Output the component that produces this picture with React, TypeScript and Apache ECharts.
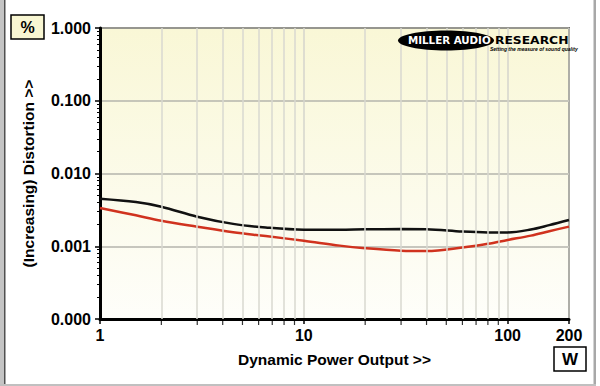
import React, { useEffect, useRef } from "react";
import * as echarts from "echarts";

const powerW = [1, 1.5, 2, 3, 4.5, 6.5, 10, 15, 20, 30, 40, 60, 80, 100, 130, 160, 200];
const blackTHD = [0.00451, 0.00405, 0.0035, 0.00255, 0.00203, 0.00181, 0.00169, 0.00169, 0.00171, 0.00172, 0.00171, 0.00159, 0.00155, 0.00155, 0.0017, 0.00195, 0.00229];
const redTHD = [0.00336, 0.00266, 0.00224, 0.00186, 0.00156, 0.00138, 0.00119, 0.00102, 0.00094, 0.00087, 0.00086, 0.00096, 0.00108, 0.00122, 0.0014, 0.00161, 0.00186];
const xLabels = [1, 10, 100, 200];
const minorGridX = [2, 3, 4, 5, 6, 7, 8, 9, 20, 30, 40, 50, 60, 70, 80, 90];
const yMin = 0.0001;
const yMax = 1;

const FONT = 'Arial, "Liberation Sans", sans-serif';
const LOGO = '"DejaVu Sans", Verdana, sans-serif';

export default function App() {
  const ref = useRef<HTMLDivElement>(null);
  useEffect(() => {
    if (!ref.current) return;
    const chart = echarts.init(ref.current, null, { renderer: "svg" });
    chart.setOption({
      animation: false,
      backgroundColor: "#ffffff",
      grid: {
        left: 100,
        right: 31,
        top: 28,
        bottom: 67,
        show: true,
        borderColor: "#000",
        borderWidth: 1.5,
        backgroundColor: new echarts.graphic.LinearGradient(0, 0, 0, 1, [
          { offset: 0, color: "#f9f7d6" },
          { offset: 1, color: "#fefefa" },
        ]),
      },
      xAxis: {
        type: "log",
        logBase: 10,
        min: 1,
        max: 200,
        name: "Dynamic Power Output >>",
        nameLocation: "middle",
        nameGap: 32,
        nameTextStyle: { fontFamily: FONT, fontWeight: "bold", fontSize: 15.5, color: "#000" },
        axisLine: { show: true, lineStyle: { color: "#000", width: 3 } },
        axisTick: { show: true, length: 5, lineStyle: { color: "#000", width: 1.5 } },
        minorTick: { show: false },
        splitLine: { show: true, lineStyle: { color: "#d4d4cc", width: 1.5 } },
        minorSplitLine: { show: false },
        axisLabel: {
          fontFamily: FONT,
          fontWeight: "bold",
          fontSize: 16,
          color: "#000",
          margin: 8,
          showMaxLabel: true,
          formatter: (v: number) => (xLabels.some((l) => Math.abs(l - v) < 1e-6) ? String(Math.round(v)) : ""),
        },
      },
      yAxis: {
        type: "log",
        logBase: 10,
        min: yMin,
        max: yMax,
        name: "(Increasing) Distortion >>",
        nameLocation: "middle",
        nameGap: 64,
        nameRotate: 90,
        nameTextStyle: { fontFamily: FONT, fontWeight: "bold", fontSize: 15.5, color: "#000" },
        axisLine: { show: true, lineStyle: { color: "#000", width: 3 } },
        axisTick: { show: true, length: 5, lineStyle: { color: "#000", width: 1.5 } },
        minorTick: { show: true, splitNumber: 9, length: 3, lineStyle: { color: "#000", width: 1 } },
        splitLine: { show: true, lineStyle: { color: "#b4b4ac", width: 1.5 } },
        minorSplitLine: { show: false },
        axisLabel: {
          fontFamily: FONT,
          fontWeight: "bold",
          fontSize: 16,
          color: "#000",
          margin: 9,
          formatter: (v: number) => v.toFixed(3),
        },
      },
      series: [
        {
          type: "line",
          silent: true,
          data: [],
          markLine: {
            silent: true,
            symbol: "none",
            label: { show: false },
            lineStyle: { color: "#d8d8d0", width: 1.5, type: "solid" },
            data: minorGridX.map((v) => ({ xAxis: v })),
          },
          z: 1,
        },
        {
          type: "scatter",
          silent: true,
          clip: false,
          symbol: "rect",
          symbolSize: [1.2, 4],
          symbolOffset: [0, 4],
          itemStyle: { color: "#000" },
          data: minorGridX.map((v) => [v, yMin]),
          z: 5,
        },
        {
          type: "line",
          data: powerW.map((p, i) => [p, blackTHD[i]]),
          smooth: 0.35,
          showSymbol: false,
          lineStyle: { color: "#111", width: 2.5 },
          z: 3,
        },
        {
          type: "line",
          data: powerW.map((p, i) => [p, redTHD[i]]),
          smooth: 0.35,
          showSymbol: false,
          lineStyle: { color: "#d0321e", width: 2.5 },
          z: 3,
        },
      ],
      graphic: [
        { type: "rect", shape: { x: 0, y: 0, width: 4, height: 386 }, style: { fill: "#c4c4c4" }, z: 100 },
        { type: "rect", shape: { x: 4, y: 0, width: 1.5, height: 386 }, style: { fill: "#505050" }, z: 100 },
        { type: "rect", shape: { x: 593.5, y: 0, width: 2.5, height: 386 }, style: { fill: "#a8a8a8" }, z: 100 },
        { type: "rect", shape: { x: 0, y: 384, width: 596, height: 2 }, style: { fill: "#c0c0c0" }, z: 100 },
        { type: "rect", shape: { x: 11, y: 15, width: 33, height: 24 }, style: { fill: "#f8f6d2", stroke: "#000", lineWidth: 1.5 }, z: 100 },
        { type: "text", x: 27.5, y: 27.5, style: { text: "%", font: `bold 16px ${FONT}`, fill: "#000", align: "center", verticalAlign: "middle" }, z: 101 },
        { type: "rect", shape: { x: 554, y: 347, width: 32, height: 24 }, style: { fill: "#fff", stroke: "#000", lineWidth: 1.5 }, z: 100 },
        { type: "text", x: 570, y: 359.5, style: { text: "W", font: `bold 17px ${FONT}`, fill: "#000", align: "center", verticalAlign: "middle" }, z: 101 },
        { type: "ellipse", shape: { cx: 446, cy: 40.5, rx: 48, ry: 10 }, style: { fill: "#000" }, z: 100 },
        { type: "text", x: 408, y: 40, scaleX: 0.98, style: { text: "MILLER AUDIO", font: `bold 10.5px ${LOGO}`, fill: "#fff", align: "left", verticalAlign: "middle" }, z: 101 },
        { type: "text", x: 495, y: 40, scaleX: 1.12, style: { text: "RESEARCH", font: `bold 11px ${LOGO}`, fill: "#000", align: "left", verticalAlign: "middle" }, z: 101 },
        { type: "text", x: 490, y: 48.5, style: { text: "Setting the measure of sound quality", font: `italic bold 5px ${FONT}`, fill: "#000", align: "left", verticalAlign: "middle" }, z: 101 },
      ],
    });
    return () => chart.dispose();
  }, []);
  return <div ref={ref} style={{ width: 600, height: 386, position: "absolute", left: 0, top: 0 }} />;
}
